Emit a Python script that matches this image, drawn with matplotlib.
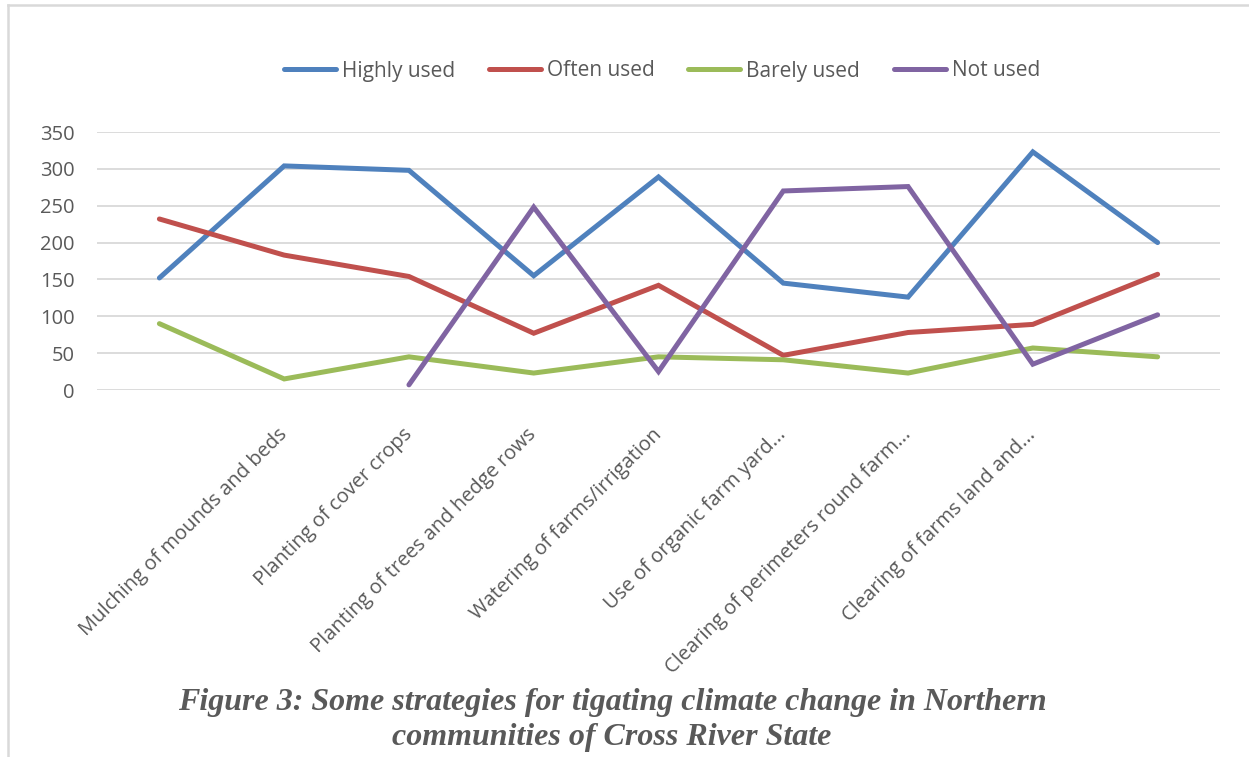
import matplotlib.pyplot as plt
from matplotlib.lines import Line2D

categories = ["",
              "Mulching of mounds and beds",
              "Planting of cover crops",
              "Planting of trees and hedge rows",
              "Watering of farms/irrigation",
              "Use of organic farm yard...",
              "Clearing of perimeters round farm...",
              "Clearing of farms land and...",
              ""]

highly_used = [152, 304, 298, 155, 289, 145, 126, 323, 200]
often_used = [232, 183, 154, 77, 142, 47, 78, 89, 157]
barely_used = [90, 15, 45, 23, 45, 41, 23, 57, 45]
not_used = [None, None, 7, 248, 25, 270, 276, 35, 102]

series = [
    ("Highly used", highly_used, "#4f81bd"),
    ("Often used", often_used, "#c0504d"),
    ("Barely used", barely_used, "#9bbb59"),
    ("Not used", not_used, "#8064a2"),
]

TEXT = "#595959"
GRID = "#d9d9d9"
plt.rcParams['font.family'] = ['Open Sans', 'DejaVu Sans']

W, H = 1249, 757
fig = plt.figure(figsize=(W / 100, H / 100), dpi=100)

# light frame on the left and top, like the pasted Excel chart
fig.add_artist(Line2D([8 / W, 8 / W], [0, 1 - 5 / H], color=GRID, lw=1.8))
fig.add_artist(Line2D([8 / W, 1], [1 - 5 / H, 1 - 5 / H], color=GRID, lw=1.8))

ax = fig.add_axes([97 / W, 1 - 390 / H, (1220 - 97) / W, (390 - 132) / H])

x = list(range(len(categories)))
for name, vals, col in series:
    xs = [i for i, v in zip(x, vals) if v is not None]
    ys = [v for v in vals if v is not None]
    ax.plot(xs, ys, color=col, lw=3.6, label=name,
            solid_capstyle='round', solid_joinstyle='miter', zorder=3)

ax.set_xlim(-0.5, len(categories) - 0.5)
ax.set_ylim(0, 350)
ax.set_yticks(range(0, 351, 50))
ax.yaxis.grid(True, color=GRID, lw=1.3)
ax.set_axisbelow(True)
for s in ax.spines.values():
    s.set_visible(False)

ax.tick_params(axis='y', length=0, pad=16, labelsize=14.5, labelcolor=TEXT)
ax.set_xticks(x)
ax.set_xticklabels(categories, rotation=45, ha='right', va='center',
                   rotation_mode='anchor', fontsize=14.5, color=TEXT)
ax.tick_params(axis='x', length=0, pad=30)

fig.legend(loc='center', bbox_to_anchor=(662 / W, 1 - 71 / H), ncol=4,
           frameon=False, fontsize=15, labelcolor=TEXT,
           handlelength=2.5, handletextpad=0.3, columnspacing=1.6)

fig.text(612 / W, 1 - 720 / H,
         "Figure 3: Some strategies for tigating climate change in Northern\n"
         "communities of Cross River State",
         ha='center', va='center', color=TEXT, fontsize=23,
         family='Liberation Serif', weight='bold', style='italic',
         linespacing=1.3)

fig.savefig("out.png", dpi=100)
